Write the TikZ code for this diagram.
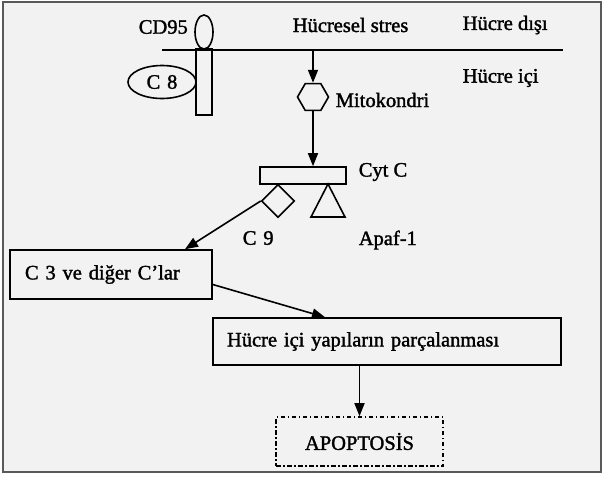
\documentclass[tikz,border=0pt]{standalone}
\usepackage{fontspec}
\setmainfont{Liberation Serif}[FakeBold=1.6]
\usetikzlibrary{arrows.meta,shapes.geometric}

\begin{document}
\begin{tikzpicture}[x=1pt,y=-1pt,line width=1.6pt,>={Triangle[length=13pt,width=10pt]},
  every node/.style={font=\fontsize{20.5}{24}\selectfont},
  lbl/.style={inner sep=0pt,anchor=west},
  kutu/.style={draw,inner ysep=0pt,align=left}]
\useasboundingbox (0,0) rectangle (604,477);
\fill[white] (0,0) rectangle (604,477);
\draw[fill=black!5,draw=black!65,line width=2.5pt] (3,2) rectangle (601,472);
% zar ve reseptor
\draw (162,50) -- (563,50);
\node[draw,ellipse,minimum width=18pt,minimum height=34pt,inner sep=0pt] (rec) at (204,32) {};
\node[draw,minimum width=16pt,minimum height=66pt,inner sep=0pt] (stem) at (204,82) {};
\node[draw,ellipse,minimum width=68pt,minimum height=33pt,inner sep=0pt] (c8) at (162,82) {C\,\,8};
\node[lbl] (cd95) at (138,27) {CD95};
\node[lbl] (stres) at (292,25) {Hücresel stres};
\node[lbl] (disi) at (462,25) {Hücre dışı};
\node[lbl] (ici) at (462,78) {Hücre içi};
\coordinate (zar) at (313,50);
% mitokondri
\node[draw,regular polygon,regular polygon sides=6,minimum size=31pt,inner sep=0pt] (mito) at (313,97) {};
\node[lbl] (mitolbl) at (335,100) {Mitokondri};
\draw[->] (zar) -- (mito.north);
\node[draw,minimum width=86pt,minimum height=17pt,inner sep=0pt] (cytc) at (303,175.5) {};
\node[lbl] (cytlbl) at (358,172) {Cyt C};
\draw[->] (mito.south) -- (mito.south |- cytc.north);
\node[draw,diamond,minimum width=33pt,minimum height=33pt,inner sep=0pt] (c9) at (278,201) {};
\draw (328,184) -- (345,217) -- (311,217) -- cycle;
\node[lbl] (c9lbl) at (242,238) {C\,\,9};
\node[lbl] (apaf) at (358,240) {Apaf-1};
% kaspazlar
\node[kutu,text width=172pt,inner xsep=15pt,minimum height=49pt] (c3) at (111,274.5) {C 3 ve diğer C’lar};
\draw[->] (c9.west) -- ([xshift=74pt]c3.north);
\node[kutu,text width=320pt,inner xsep=14pt,minimum height=47pt] (parca) at (387,341.5) {Hücre içi yapıların parçalanması};
\draw[->] ([yshift=-10pt]c3.east) -- ([xshift=-62pt]parca.north);
\node[draw,dash pattern=on 4.5pt off 2.5pt on 1.5pt off 2.5pt,minimum width=167pt,minimum height=49pt,inner sep=0pt] (apo) at (359.5,441.5) {APOPTOSİS};
\draw[->] (parca.south -| apo.north) -- (apo.north);
\end{tikzpicture}
\end{document}
